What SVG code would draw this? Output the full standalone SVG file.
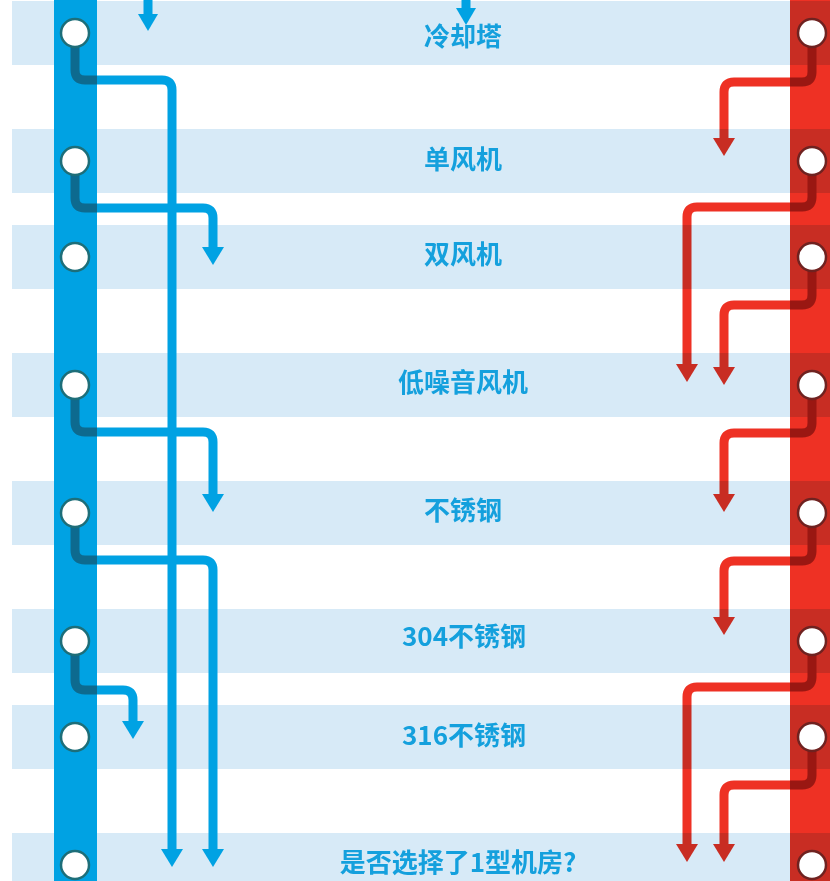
<svg xmlns="http://www.w3.org/2000/svg" width="830" height="881" viewBox="0 0 830 881">
<defs>
<style>
.band{fill:#d7eaf7}
.bl{fill:none;stroke:#00a2e3;stroke-width:9}
.bd{fill:none;stroke:#0d6a8f;stroke-width:9}
.ba{fill:#00a2e3}
.rl{fill:none;stroke:#ee3124;stroke-width:9}
.rd{fill:none;stroke:#9a1712;stroke-width:9}
.ra{fill:#ee3124}
.cb{fill:#ffffff;stroke:#1d6e79;stroke-width:2.5}
.cr{fill:#ffffff;stroke:#6f2220;stroke-width:2.5}
.t{font-family:"Noto Sans CJK SC","Noto Sans",sans-serif;font-size:26px;font-weight:bold;fill:#14a0dd;text-anchor:middle}
</style>
<g id="bandset">
<rect class="band" x="12" y="1" width="818" height="64"/>
<rect class="band" x="12" y="129" width="818" height="64"/>
<rect class="band" x="12" y="225" width="818" height="64"/>
<rect class="band" x="12" y="353" width="818" height="64"/>
<rect class="band" x="12" y="481" width="818" height="64"/>
<rect class="band" x="12" y="609" width="818" height="64"/>
<rect class="band" x="12" y="705" width="818" height="64"/>
<rect class="band" x="12" y="833" width="818" height="64"/>
</g>
<clipPath id="rightclip"><rect x="600" y="0" width="230" height="881"/></clipPath>
<clipPath id="leftclip"><rect x="0" y="0" width="600" height="881"/></clipPath>
</defs>
<rect width="830" height="881" fill="#ffffff"/>
<use href="#bandset" clip-path="url(#leftclip)"/>
<rect id="blue-bar" x="54" y="0" width="43" height="881" fill="#00a2e3"/>
<rect id="red-bar" x="790" y="0" width="40" height="881" fill="#ee3124"/>
<g id="connectors">
<path class="bl" d="M148 -5 V16"/>
<polygon class="ba" points="138,14 158,14 148,31"/>
<path class="bl" d="M466 -5 V10"/>
<polygon class="ba" points="456,8 476,8 466,25"/>
<path class="bl" d="M75 33 V70 Q75 80 85 80 H162 Q172 80 172 90 V852"/>
<polygon class="ba" points="161,849 183,849 172,867"/>
<path class="bd" d="M75 33 V70 Q75 80 85 80 H97"/>
<path class="bl" d="M75 161 V198 Q75 208 85 208 H203 Q213 208 213 218 V250"/>
<polygon class="ba" points="202,247 224,247 213,265"/>
<path class="bd" d="M75 161 V198 Q75 208 85 208 H97"/>
<path class="bl" d="M75 385 V422 Q75 432 85 432 H203 Q213 432 213 442 V497"/>
<polygon class="ba" points="202,494 224,494 213,512"/>
<path class="bd" d="M75 385 V422 Q75 432 85 432 H97"/>
<path class="bl" d="M75 513 V550 Q75 560 85 560 H203 Q213 560 213 570 V852"/>
<polygon class="ba" points="202,849 224,849 213,867"/>
<path class="bd" d="M75 513 V550 Q75 560 85 560 H97"/>
<path class="bl" d="M75 641 V680 Q75 690 85 690 H123 Q133 690 133 700 V724"/>
<polygon class="ba" points="122,721 144,721 133,739"/>
<path class="bd" d="M75 641 V680 Q75 690 85 690 H97"/>
<path class="rl" d="M812 33 V72 Q812 82 802 82 H734 Q724 82 724 92 V141"/>
<polygon class="ra" points="713,138 735,138 724,156"/>
<path class="rl" d="M812 161 V197 Q812 207 802 207 H697 Q687 207 687 217 V367"/>
<polygon class="ra" points="676,364 698,364 687,382"/>
<path class="rl" d="M812 257 V295 Q812 305 802 305 H734 Q724 305 724 315 V370"/>
<polygon class="ra" points="713,367 735,367 724,385"/>
<path class="rl" d="M812 385 V423 Q812 433 802 433 H734 Q724 433 724 443 V497"/>
<polygon class="ra" points="713,494 735,494 724,512"/>
<path class="rl" d="M812 513 V551 Q812 561 802 561 H734 Q724 561 724 571 V620"/>
<polygon class="ra" points="713,617 735,617 724,635"/>
<path class="rl" d="M812 641 V677 Q812 687 802 687 H697 Q687 687 687 697 V847"/>
<polygon class="ra" points="676,844 698,844 687,862"/>
<path class="rl" d="M812 737 V775 Q812 785 802 785 H734 Q724 785 724 795 V847"/>
<polygon class="ra" points="713,844 735,844 724,862"/>
</g>
<use href="#bandset" clip-path="url(#rightclip)" style="mix-blend-mode:multiply"/>
<g id="darkred">
<path class="rd" d="M812 33 V72 Q812 82 802 82 H790"/>
<path class="rd" d="M812 161 V197 Q812 207 802 207 H790"/>
<path class="rd" d="M812 257 V295 Q812 305 802 305 H790"/>
<path class="rd" d="M812 385 V423 Q812 433 802 433 H790"/>
<path class="rd" d="M812 513 V551 Q812 561 802 561 H790"/>
<path class="rd" d="M812 641 V677 Q812 687 802 687 H790"/>
<path class="rd" d="M812 737 V775 Q812 785 802 785 H790"/>
</g>
<g id="node-1"><circle class="cb" cx="75" cy="33" r="14"/><circle class="cr" cx="812" cy="33" r="14"/><text class="t" x="463" y="46">冷却塔</text></g>
<g id="node-2"><circle class="cb" cx="75" cy="161" r="14"/><circle class="cr" cx="812" cy="161" r="14"/><text class="t" x="463" y="169">单风机</text></g>
<g id="node-3"><circle class="cb" cx="75" cy="257" r="14"/><circle class="cr" cx="812" cy="257" r="14"/><text class="t" x="463" y="264">双风机</text></g>
<g id="node-4"><circle class="cb" cx="75" cy="385" r="14"/><circle class="cr" cx="812" cy="385" r="14"/><text class="t" x="463" y="392">低噪音风机</text></g>
<g id="node-5"><circle class="cb" cx="75" cy="513" r="14"/><circle class="cr" cx="812" cy="513" r="14"/><text class="t" x="463" y="520">不锈钢</text></g>
<g id="node-6"><circle class="cb" cx="75" cy="641" r="14"/><circle class="cr" cx="812" cy="641" r="14"/><text class="t" x="464" y="646">304不锈钢</text></g>
<g id="node-7"><circle class="cb" cx="75" cy="737" r="14"/><circle class="cr" cx="812" cy="737" r="14"/><text class="t" x="464" y="745">316不锈钢</text></g>
<g id="node-8"><circle class="cb" cx="75" cy="865" r="14"/><circle class="cr" cx="812" cy="865" r="14"/><text class="t" x="458" y="872">是否选择了1型机房?</text></g>
</svg>
